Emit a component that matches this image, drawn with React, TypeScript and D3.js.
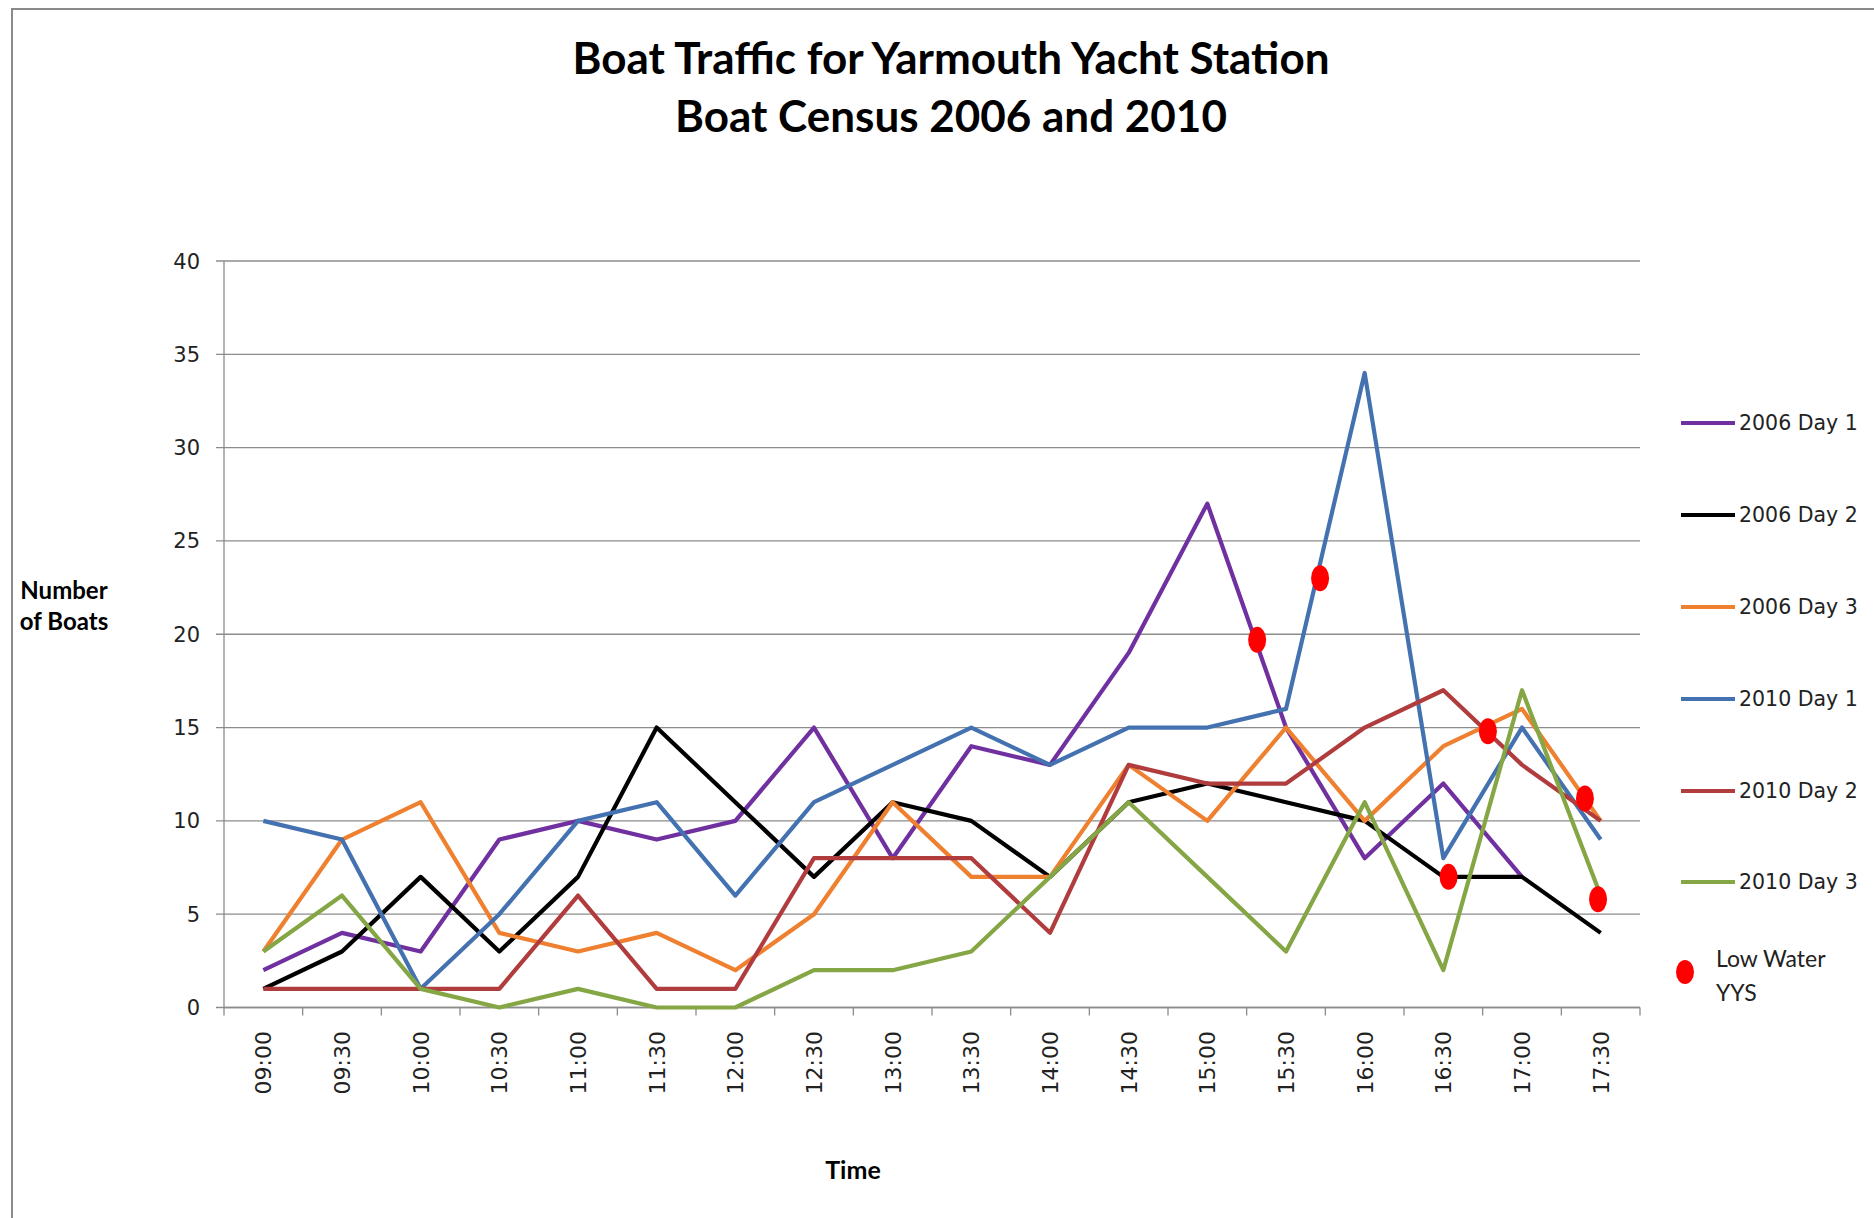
import React from "react";
import * as d3 from "d3";

// half-hour census slots
const times = ["09:00", "09:30", "10:00", "10:30", "11:00", "11:30", "12:00", "12:30", "13:00",
  "13:30", "14:00", "14:30", "15:00", "15:30", "16:00", "16:30", "17:00", "17:30"];

const day1_2006 = [2, 4, 3, 9, 10, 9, 10, 15, 8, 14, 13, 19, 27, 15, 8, 12, 7, null];
const day2_2006 = [1, 3, 7, 3, 7, 15, 11, 7, 11, 10, 7, 11, 12, 11, 10, 7, 7, 4];
const day3_2006 = [3, 9, 11, 4, 3, 4, 2, 5, 11, 7, 7, 13, 10, 15, 10, 14, 16, 10];
const day1_2010 = [10, 9, 1, 5, 10, 11, 6, 11, 13, 15, 13, 15, 15, 16, 34, 8, 15, 9];
const day2_2010 = [1, 1, 1, 1, 6, 1, 1, 8, 8, 8, 4, 13, 12, 12, 15, 17, 13, 10];
const day3_2010 = [3, 6, 1, 0, 1, 0, 0, 2, 2, 3, 7, 11, 7, 3, 11, 2, 17, 6];

const seriesNames = ["2006 Day 1", "2006 Day 2", "2006 Day 3", "2010 Day 1", "2010 Day 2", "2010 Day 3"];
const seriesColors = ["#7030A0", "#000000", "#EE8030", "#4472B0", "#B03C3E", "#85A645"];
const seriesValues = [day1_2006, day2_2006, day3_2006, day1_2010, day2_2010, day3_2010];

// low water at the yacht station (time, boats)
const lowWaterTimes = ["15:19", "15:43", "16:32", "16:47", "17:24", "17:29"];
const lowWaterValues = [19.7, 23.0, 7.0, 14.8, 11.2, 5.8];

const yTicks = [0, 5, 10, 15, 20, 25, 30, 35, 40];

const toMin = (t: string) => {
  const [h, m] = t.split(":").map(Number);
  return h * 60 + m;
};

export default function App() {
  const W = 1874, H = 1218;
  const left = 224, right = 1640, top = 261, bottom = 1007.5;

  const x = d3.scaleBand<string>().domain(times).range([left, right]);
  const bw = x.bandwidth();
  const cx = (t: string) => (x(t) as number) + bw / 2;
  const xTime = d3.scaleLinear()
    .domain([toMin(times[0]), toMin(times[times.length - 1])])
    .range([cx(times[0]), cx(times[times.length - 1])]);
  const y = d3.scaleLinear().domain([0, 40]).range([bottom, top]);

  const line = d3.line<number | null>()
    .defined(d => d != null)
    .x((d, i) => cx(times[i]))
    .y(d => y(d as number));

  const tickFont = "'DejaVu Sans', Verdana, sans-serif";
  const boldFont = "Lato, 'Open Sans', sans-serif";

  const legendRows = [423, 515, 607, 699, 791, 882];

  return (
    <svg width={W} height={H} style={{ position: "absolute", left: 0, top: 0, background: "#fff" }}>
      <rect x={0} y={0} width={W} height={H} fill="#fff" />
      <rect x={12} y={9} width={W} height={H} fill="none" stroke="#8a8a8a" strokeWidth={2} />

      <text x={951} y={74} textAnchor="middle" fontFamily={boldFont} fontWeight="bold" fontSize={44} fill="#000">
        Boat Traffic for Yarmouth Yacht Station
      </text>
      <text x={951} y={132} textAnchor="middle" fontFamily={boldFont} fontWeight="bold" fontSize={44} fill="#000">
        Boat Census 2006 and 2010
      </text>

      {/* gridlines + y axis */}
      {yTicks.map(t => (
        <g key={t}>
          <line x1={left - 8} x2={right} y1={y(t)} y2={y(t)} stroke="#8c8c8c" strokeWidth={1.3} />
          <text x={200} y={y(t)} dy="0.36em" textAnchor="end" fontFamily={tickFont} fontSize={21} fill="#222">{t}</text>
        </g>
      ))}
      <line x1={left} x2={left} y1={top} y2={bottom} stroke="#8c8c8c" strokeWidth={1.3} />

      {/* x axis */}
      <line x1={left} x2={right} y1={bottom} y2={bottom} stroke="#8c8c8c" strokeWidth={1.3} />
      {times.map(t => (
        <line key={"tk" + t} x1={x(t)} x2={x(t)} y1={bottom} y2={bottom + 8} stroke="#8c8c8c" strokeWidth={1.3} />
      ))}
      <line x1={right} x2={right} y1={bottom} y2={bottom + 8} stroke="#8c8c8c" strokeWidth={1.3} />
      {times.map(t => (
        <text key={"lb" + t} transform={`translate(${cx(t)},1031) rotate(-90)`} dy="0.36em" textAnchor="end"
          fontFamily={tickFont} fontSize={22} fill="#222">{t}</text>
      ))}

      <text x={64} y={599} textAnchor="middle" fontFamily={boldFont} fontWeight="bold" fontSize={24} fill="#000">Number</text>
      <text x={64} y={630} textAnchor="middle" fontFamily={boldFont} fontWeight="bold" fontSize={24} fill="#000">of Boats</text>
      <text x={853} y={1179} textAnchor="middle" fontFamily={boldFont} fontWeight="bold" fontSize={25} fill="#000">Time</text>

      {/* series */}
      {seriesValues.map((vals, i) => (
        <path key={seriesNames[i]} d={line(vals) || ""} fill="none" stroke={seriesColors[i]}
          strokeWidth={4.2} strokeLinejoin="round" />
      ))}

      {lowWaterTimes.map((t, i) => (
        <ellipse key={"lw" + i} cx={xTime(toMin(t))} cy={y(lowWaterValues[i])} rx={9} ry={13} fill="#FF0000" />
      ))}

      {/* legend */}
      {seriesNames.map((n, i) => (
        <g key={"lg" + n}>
          <line x1={1681} x2={1735} y1={legendRows[i]} y2={legendRows[i]} stroke={seriesColors[i]} strokeWidth={4.2} />
          <text x={1739} y={legendRows[i]} dy="0.36em" fontFamily={tickFont} fontSize={20.5} fill="#222">{n}</text>
        </g>
      ))}
      <ellipse cx={1685} cy={972} rx={9} ry={12} fill="#FF0000" />
      <text x={1716} y={967} fontFamily={boldFont} fontSize={23} fill="#222">Low Water</text>
      <text x={1716} y={1001} fontFamily={boldFont} fontSize={23} fill="#222">YYS</text>
    </svg>
  );
}
